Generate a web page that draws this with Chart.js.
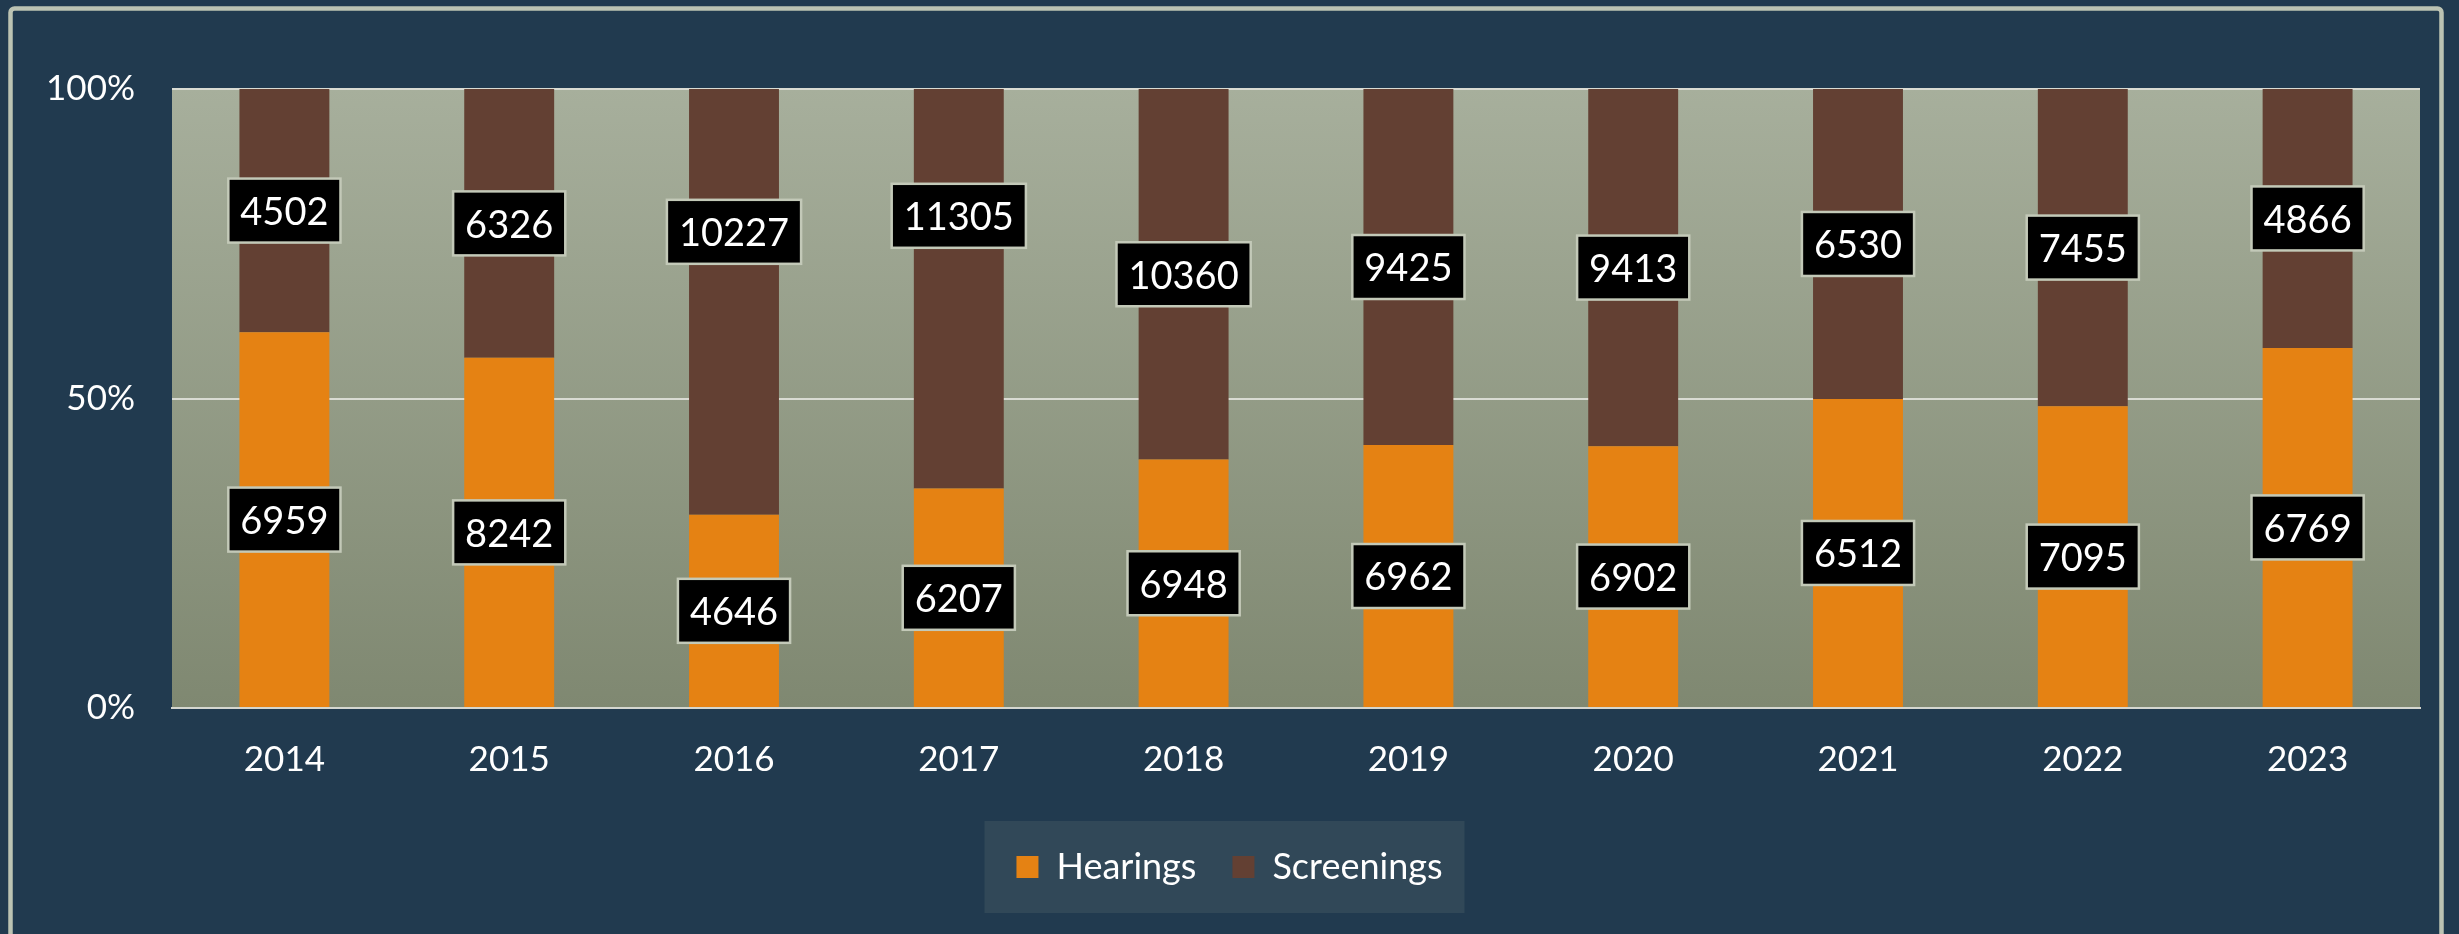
<!DOCTYPE html>
<html>
<head>
<meta charset="utf-8">
<script src="https://cdn.jsdelivr.net/npm/chart.js@4.4.1/dist/chart.umd.min.js"></script>
<style>
  html, body { margin: 0; padding: 0; background: #213a4f; overflow: hidden; }
  #grafico { display: block; }
</style>
</head>
<body>
<canvas id="grafico" width="2459" height="934"></canvas>
<script>
const anos = ['2014', '2015', '2016', '2017', '2018', '2019', '2020', '2021', '2022', '2023'];
const hearings = [6959, 8242, 4646, 6207, 6948, 6962, 6902, 6512, 7095, 6769];
const screenings = [4502, 6326, 10227, 11305, 10360, 9425, 9413, 6530, 7455, 4866];
const ticksY = [0, 50, 100];

// share of each year's total, for the 100% stack
const total = anos.map((a, i) => hearings[i] + screenings[i]);
const pctHearings = hearings.map((v, i) => v / total[i] * 100);
const pctScreenings = screenings.map((v, i) => v / total[i] * 100);

const fonte = 'Lato';

// a couple of labels were nudged up by hand in the original
const ajusteRotulo = { 'Screenings-2016': -70, 'Screenings-2017': -73 };

const fundo = {
  id: 'fundo',
  beforeDraw(chart) {
    const ctx = chart.ctx;
    const area = chart.chartArea;
    ctx.save();
    ctx.fillStyle = '#213a4f';
    ctx.fillRect(0, 0, chart.width, chart.height);

    // outer frame
    ctx.strokeStyle = '#bcc3b3';
    ctx.lineWidth = 4.5;
    ctx.beginPath();
    ctx.roundRect(10.5, 8.5, 2431, 1000, 4);
    ctx.stroke();

    // plot area gradient
    const grad = ctx.createLinearGradient(0, area.top, 0, area.bottom);
    grad.addColorStop(0, '#a7af9c');
    grad.addColorStop(1, '#7f8871');
    ctx.fillStyle = grad;
    ctx.fillRect(area.left, area.top, area.right - area.left, area.bottom - area.top);

    // legend background
    const boxes = chart.legend.legendHitBoxes;
    if (boxes && boxes.length) {
      const l = Math.min(...boxes.map(b => b.left));
      const r = Math.max(...boxes.map(b => b.left + b.width));
      const cy = boxes[0].top + boxes[0].height / 2;
      const cx = (l + r) / 2 - 5;
      ctx.fillStyle = '#314858';
      ctx.fillRect(cx - 240, cy - 46, 480, 92);
    }
    ctx.restore();
  }
};

const rotulos = {
  id: 'rotulos',
  afterDatasetsDraw(chart) {
    const ctx = chart.ctx;
    const valores = [hearings, screenings];
    ctx.save();
    ctx.font = '38px ' + fonte;
    ctx.textAlign = 'center';
    ctx.textBaseline = 'middle';
    chart.data.datasets.forEach((ds, d) => {
      chart.getDatasetMeta(d).data.forEach((bar, i) => {
        const txt = String(valores[d][i]);
        const cx = bar.x;
        const cy = (bar.y + bar.base) / 2 + (ajusteRotulo[ds.label + '-' + anos[i]] || 0);
        const w = ctx.measureText(txt).width + 24;
        const h = 64;
        ctx.fillStyle = '#000000';
        ctx.fillRect(cx - w / 2, cy - h / 2, w, h);
        ctx.strokeStyle = '#c3c9b8';
        ctx.lineWidth = 2.5;
        ctx.strokeRect(cx - w / 2, cy - h / 2, w, h);
        ctx.fillStyle = '#ffffff';
        ctx.fillText(txt, cx, cy + 2);
      });
    });
    ctx.restore();
  }
};

const ctx = document.getElementById('grafico').getContext('2d');
const grafico = new Chart(ctx, {
  type: 'bar',
  data: {
    labels: anos,
    datasets: [{
      label: 'Hearings',
      data: pctHearings,
      backgroundColor: '#e58213',
      barPercentage: 0.4,
      categoryPercentage: 1
    }, {
      label: 'Screenings',
      data: pctScreenings,
      backgroundColor: '#634033',
      barPercentage: 0.4,
      categoryPercentage: 1
    }]
  },
  options: {
    responsive: false,
    animation: false,
    layout: { padding: { top: 89, right: 39, bottom: 39, left: 39 } },
    plugins: {
      tooltip: { enabled: false },
      legend: {
        position: 'bottom',
        labels: {
          color: '#ffffff',
          font: { family: fonte, size: 36 },
          boxWidth: 22,
          boxHeight: 22,
          padding: 36
        }
      }
    },
    scales: {
      x: {
        stacked: true,
        grid: { display: false },
        border: { display: true, color: '#d4d6cf', width: 2 },
        ticks: { color: '#ffffff', font: { family: fonte, size: 35 }, padding: 23 },
        afterFit(scale) { scale.height = 105; }
      },
      y: {
        stacked: true,
        min: 0,
        max: 100,
        afterBuildTicks(scale) { scale.ticks = ticksY.map(v => ({ value: v })); },
        grid: { color: '#d9dbd3', lineWidth: 2, drawTicks: false },
        border: { display: false },
        ticks: {
          color: '#ffffff',
          font: { family: fonte, size: 35 },
          padding: 37,
          callback: v => v + '%'
        },
        afterFit(scale) { scale.width = 133; }
      }
    }
  },
  plugins: [fundo, rotulos]
});
</script>
</body>
</html>
